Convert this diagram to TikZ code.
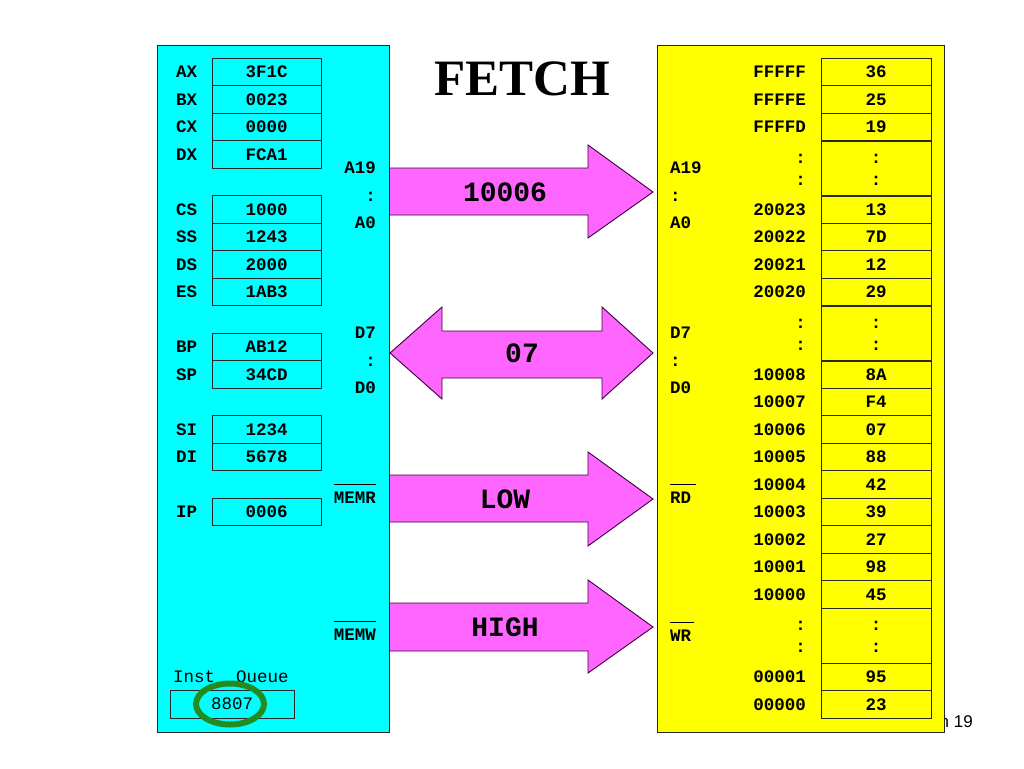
\documentclass[tikz,border=0pt]{standalone}
\usepackage{fontspec}
\setmainfont{Liberation Serif}
\setsansfont{Liberation Sans}
\setmonofont{Liberation Mono}
\definecolor{cpuc}{RGB}{0,255,255}
\definecolor{memc}{RGB}{255,255,0}
\definecolor{arrc}{RGB}{255,102,255}
\definecolor{arrd}{RGB}{60,0,60}
\definecolor{ringc}{RGB}{34,139,34}
\definecolor{edgec}{RGB}{40,40,40}
\tikzset{
  txt/.style={font=\ttfamily\bfseries\fontsize{17.5}{20}\selectfont, inner sep=0pt, text=black},
  lbl/.style={txt, anchor=base west, yshift=-5.8pt},
  lblr/.style={txt, anchor=base east, yshift=-5.8pt},
  colr/.style={txt, anchor=base east, yshift=-4.6pt},
  colw/.style={txt, anchor=base west, yshift=-4.6pt},
  colc/.style={txt, anchor=base, yshift=-4.6pt},
  regbox/.style={txt, draw=edgec, line width=1pt, minimum width=109pt, minimum height=27.5pt, anchor=center},
  membox/.style={regbox, minimum width=110pt},
  panel/.style={draw=edgec, line width=1.2pt, inner sep=0pt, anchor=north west},
  busarrow/.style={fill=arrc, draw=arrd, line width=0.9pt, line join=miter},
  atext/.style={font=\ttfamily\bfseries\fontsize{28}{30}\selectfont, inner sep=0pt, anchor=center},
  ovl/.style={draw=black, line width=1pt},
  ring/.style={draw=ringc, line width=6pt},
}
\begin{document}
\begin{tikzpicture}[x=1pt,y=-1pt]
\fill[white] (0,0) rectangle (1024,768);
\useasboundingbox (0,0) rectangle (1024,768);

% page footer, partly covered by the memory panel
\node[font=\sffamily\fontsize{17}{20}\selectfont, inner sep=0pt, anchor=base east] (pg) at (973,727) {n 19};

% one-way bus arrows (left ends hidden under the CPU panel)
\path[busarrow] (380,168) -- (588,168) -- (588,145) -- (653,192) -- (588,238) -- (588,215) -- (380,215) -- cycle;
\path[busarrow] (380,475) -- (588,475) -- (588,452) -- (653,499) -- (588,546) -- (588,522) -- (380,522) -- cycle;
\path[busarrow] (380,603) -- (588,603) -- (588,580) -- (653,627) -- (588,673) -- (588,651) -- (380,651) -- cycle;

% panels
\node[panel, fill=cpuc, minimum width=232pt, minimum height=687pt] (cpu) at (157,45) {};
\node[panel, fill=memc, minimum width=287pt, minimum height=687pt] (mem) at (657,45) {};

% two-way data bus arrow
\path[busarrow] (390,353) -- (442,307) -- (442,331) -- (602,331) -- (602,307) -- (653,353) -- (602,399) -- (602,378) -- (442,378) -- (442,399) -- cycle;

% arrow texts
\node[atext] (t1) at (505,192) {10006};
\node[atext] (t2) at (522,353) {07};
\node[atext] (t3) at (505,499) {LOW};
\node[atext] (t4) at (505,627) {HIGH};

% title
\node[font=\rmfamily\bfseries\fontsize{51}{56}\selectfont, inner sep=0pt, anchor=base] (ttl) at (522,95) {FETCH};

% registers
\foreach \n/\v/\y in {AX/3F1C/72, BX/0023/99.5, CX/0000/127, DX/FCA1/154.5,
                      CS/1000/209.5, SS/1243/237, DS/2000/264.5, ES/1AB3/292,
                      BP/AB12/347, SP/34CD/374.5, SI/1234/429.5, DI/5678/457, IP/0006/512} {
  \node[lbl] (l\n) at (176,\y) {\n};
  \node[regbox] (v\n) at (266.5,\y) {\v};
}

% CPU side bus labels
\node[lblr] (la19) at (376,168) {A19};
\node[colr] (lac) at (376,197) {:};
\node[lblr] (la0) at (376,223) {A0};
\node[lblr] (ld7) at (376,333) {D7};
\node[colr] (ldc) at (376,362) {:};
\node[lblr] (ld0) at (376,388) {D0};
\node[lblr] (lmr) at (376,498) {MEMR};
\node[lblr] (lmw) at (376,635) {MEMW};
\draw[ovl] ([yshift=8pt]lmr.north west) -- ([yshift=8pt]lmr.north east);
\draw[ovl] ([yshift=8pt]lmw.north west) -- ([yshift=8pt]lmw.north east);

% instruction queue
\node[lbl, font=\ttfamily\fontsize{17.5}{20}\selectfont] (iql) at (173,677) {Inst\ \ Queue};
\node[regbox, font=\ttfamily\fontsize{17.5}{20}\selectfont, minimum width=124pt, minimum height=28pt] (iq) at (232,704) {8807};
\draw[ring] ([xshift=-2pt]iq.center) ellipse [x radius=34, y radius=20.5];

% memory side bus labels
\node[lbl] (ra19) at (670,168) {A19};
\node[colw] (rac) at (670,197) {:};
\node[lbl] (ra0) at (670,223) {A0};
\node[lbl] (rd7) at (670,333) {D7};
\node[colw] (rdc) at (670,362) {:};
\node[lbl] (rd0) at (670,388) {D0};
\node[lbl] (rrd) at (670,498) {RD};
\node[lbl] (rwr) at (670,636) {WR};
\draw[ovl] ([yshift=8pt]rrd.north west) -- ([yshift=8pt,xshift=5pt]rrd.north east);
\draw[ovl] ([yshift=8pt]rwr.north west) -- ([yshift=8pt,xshift=3pt]rwr.north east);

% memory cells
\foreach \a/\v/\y [count=\i] in {FFFFF/36/72, FFFFE/25/99.5, FFFFD/19/127,
      20023/13/209.5, 20022/7D/237, 20021/12/264.5, 20020/29/292,
      10008/8A/374.5, 10007/F4/402, 10006/07/429.5, 10005/88/457, 10004/42/484.5,
      10003/39/512, 10002/27/539.5, 10001/98/567, 10000/45/594.5,
      00001/95/677, 00000/23/704.5} {
  \node[lblr] (ma\i) at (806,\y) {\a};
  \node[membox] (mv\i) at (876,\y) {\v};
}
% elided ranges
\foreach \t [count=\k] in {141, 306, 608} {
  \node[membox, minimum height=55pt, anchor=north] (gap\k) at (876,\t) {};
  \node[colr] (gaa\k) at (806,\t+17.5) {:};
  \node[colr] (gab\k) at (806,\t+39.5) {:};
  \node[colc] (gva\k) at (876,\t+17.5) {:};
  \node[colc] (gvb\k) at (876,\t+39.5) {:};
}
\end{tikzpicture}
\end{document}
